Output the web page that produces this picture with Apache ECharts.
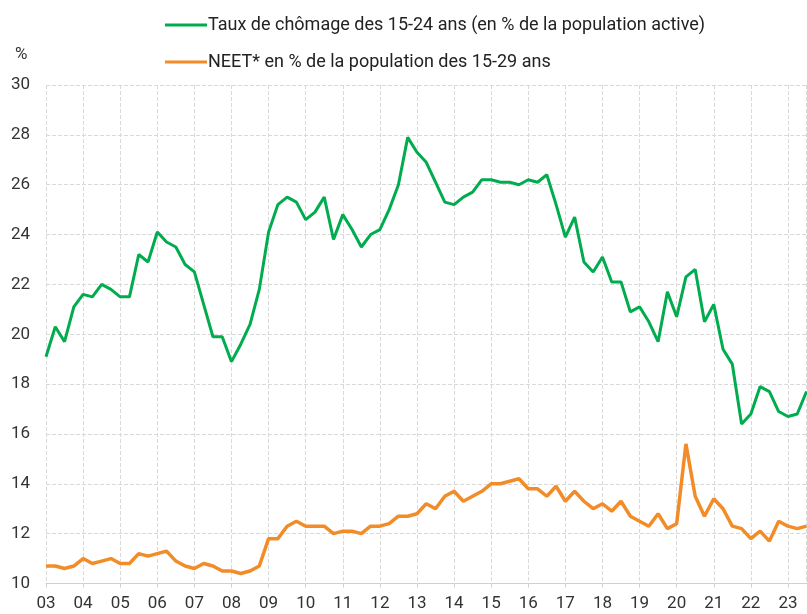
<!DOCTYPE html>
<html>
<head>
<meta charset="utf-8">
<script src="https://cdn.jsdelivr.net/npm/echarts@6/dist/echarts.min.js"></script>
<style>html,body{margin:0;padding:0;background:#fff}#c{width:807px;height:614px}</style>
</head>
<body>
<div id="c"></div>
<script>
// Quarterly data, 2003 Q1 .. 2023 Q3 (83 quarters)
var yearLabels = ['03','04','05','06','07','08','09','10','11','12','13','14','15','16','17','18','19','20','21','22','23'];
var seriesNames = ['Taux de chômage des 15-24 ans (en % de la population active)', 'NEET* en % de la population des 15-29 ans'];
var chomage = [
  19.1, 20.3, 19.7, 21.1, 21.6, 21.5, 22.0, 21.8, 21.5, 21.5,
  23.2, 22.9, 24.1, 23.7, 23.5, 22.8, 22.5, 21.2, 19.9, 19.9,
  18.9, 19.6, 20.4, 21.8, 24.1, 25.2, 25.5, 25.3, 24.6, 24.9,
  25.5, 23.8, 24.8, 24.2, 23.5, 24.0, 24.2, 25.0, 26.0, 27.9,
  27.3, 26.9, 26.1, 25.3, 25.2, 25.5, 25.7, 26.2, 26.2, 26.1,
  26.1, 26.0, 26.2, 26.1, 26.4, 25.2, 23.9, 24.7, 22.9, 22.5,
  23.1, 22.1, 22.1, 20.9, 21.1, 20.5, 19.7, 21.7, 20.7, 22.3,
  22.6, 20.5, 21.2, 19.4, 18.8, 16.4, 16.8, 17.9, 17.7, 16.9,
  16.7, 16.8, 17.7
];
var neet = [
  10.7, 10.7, 10.6, 10.7, 11.0, 10.8, 10.9, 11.0, 10.8, 10.8,
  11.2, 11.1, 11.2, 11.3, 10.9, 10.7, 10.6, 10.8, 10.7, 10.5,
  10.5, 10.4, 10.5, 10.7, 11.8, 11.8, 12.3, 12.5, 12.3, 12.3,
  12.3, 12.0, 12.1, 12.1, 12.0, 12.3, 12.3, 12.4, 12.7, 12.7,
  12.8, 13.2, 13.0, 13.5, 13.7, 13.3, 13.5, 13.7, 14.0, 14.0,
  14.1, 14.2, 13.8, 13.8, 13.5, 13.9, 13.3, 13.7, 13.3, 13.0,
  13.2, 12.9, 13.3, 12.7, 12.5, 12.3, 12.8, 12.2, 12.4, 15.6,
  13.5, 12.7, 13.4, 13.0, 12.3, 12.2, 11.8, 12.1, 11.7, 12.5,
  12.3, 12.2, 12.3
];

function pairs(arr){ return arr.map(function(v,i){ return [i, v]; }); }

var chart = echarts.init(document.getElementById('c'));
var font = 'Roboto';
chart.setOption({
  animation: false,
  backgroundColor: '#fff',
  textStyle: { fontFamily: font },
  legend: {
    orient: 'vertical', left: 160, top: 11, itemGap: 19,
    itemWidth: 42, itemHeight: 3, icon: 'rect',
    textStyle: { fontSize: 18, color: '#222', padding: [0,0,0,-4] },
    data: seriesNames
  },
  graphic: [{ type: 'text', left: 15, top: 46, style: { text: '%', fontSize: 17, fill: '#333', fontFamily: font } }],
  grid: { left: 46, right: 0.5, top: 85, bottom: 30.5 },
  xAxis: {
    type: 'value', min: 0, max: 82, interval: 4,
    axisLine: { show: true, lineStyle: { color: '#d0d0d0', width: 1 } },
    axisTick: { show: true, length: 4, lineStyle: { color: '#d0d0d0' } },
    axisLabel: { fontSize: 17, color: '#333', margin: 12, showMaxLabel: false,
      formatter: function(v){ return yearLabels[v/4] || ''; } },
    splitLine: { show: true, lineStyle: { color: '#d9d9d9', type: [4,2] } }
  },
  yAxis: {
    type: 'value', min: 10, max: 30, interval: 2,
    axisLine: { show: false }, axisTick: { show: false },
    axisLabel: { fontSize: 17, color: '#333', margin: 16 },
    splitLine: { show: true, lineStyle: { color: '#d9d9d9', type: [4,2] } }
  },
  series: [
    { name: seriesNames[0], type: 'line', data: pairs(chomage), symbol: 'none',
      lineStyle: { color: '#00ac4e', width: 3 }, itemStyle: { color: '#00ac4e' } },
    { name: seriesNames[1], type: 'line', data: pairs(neet), symbol: 'none',
      lineStyle: { color: '#f28c28', width: 3.5 }, itemStyle: { color: '#f28c28' } }
  ]
});
</script>
</body>
</html>
